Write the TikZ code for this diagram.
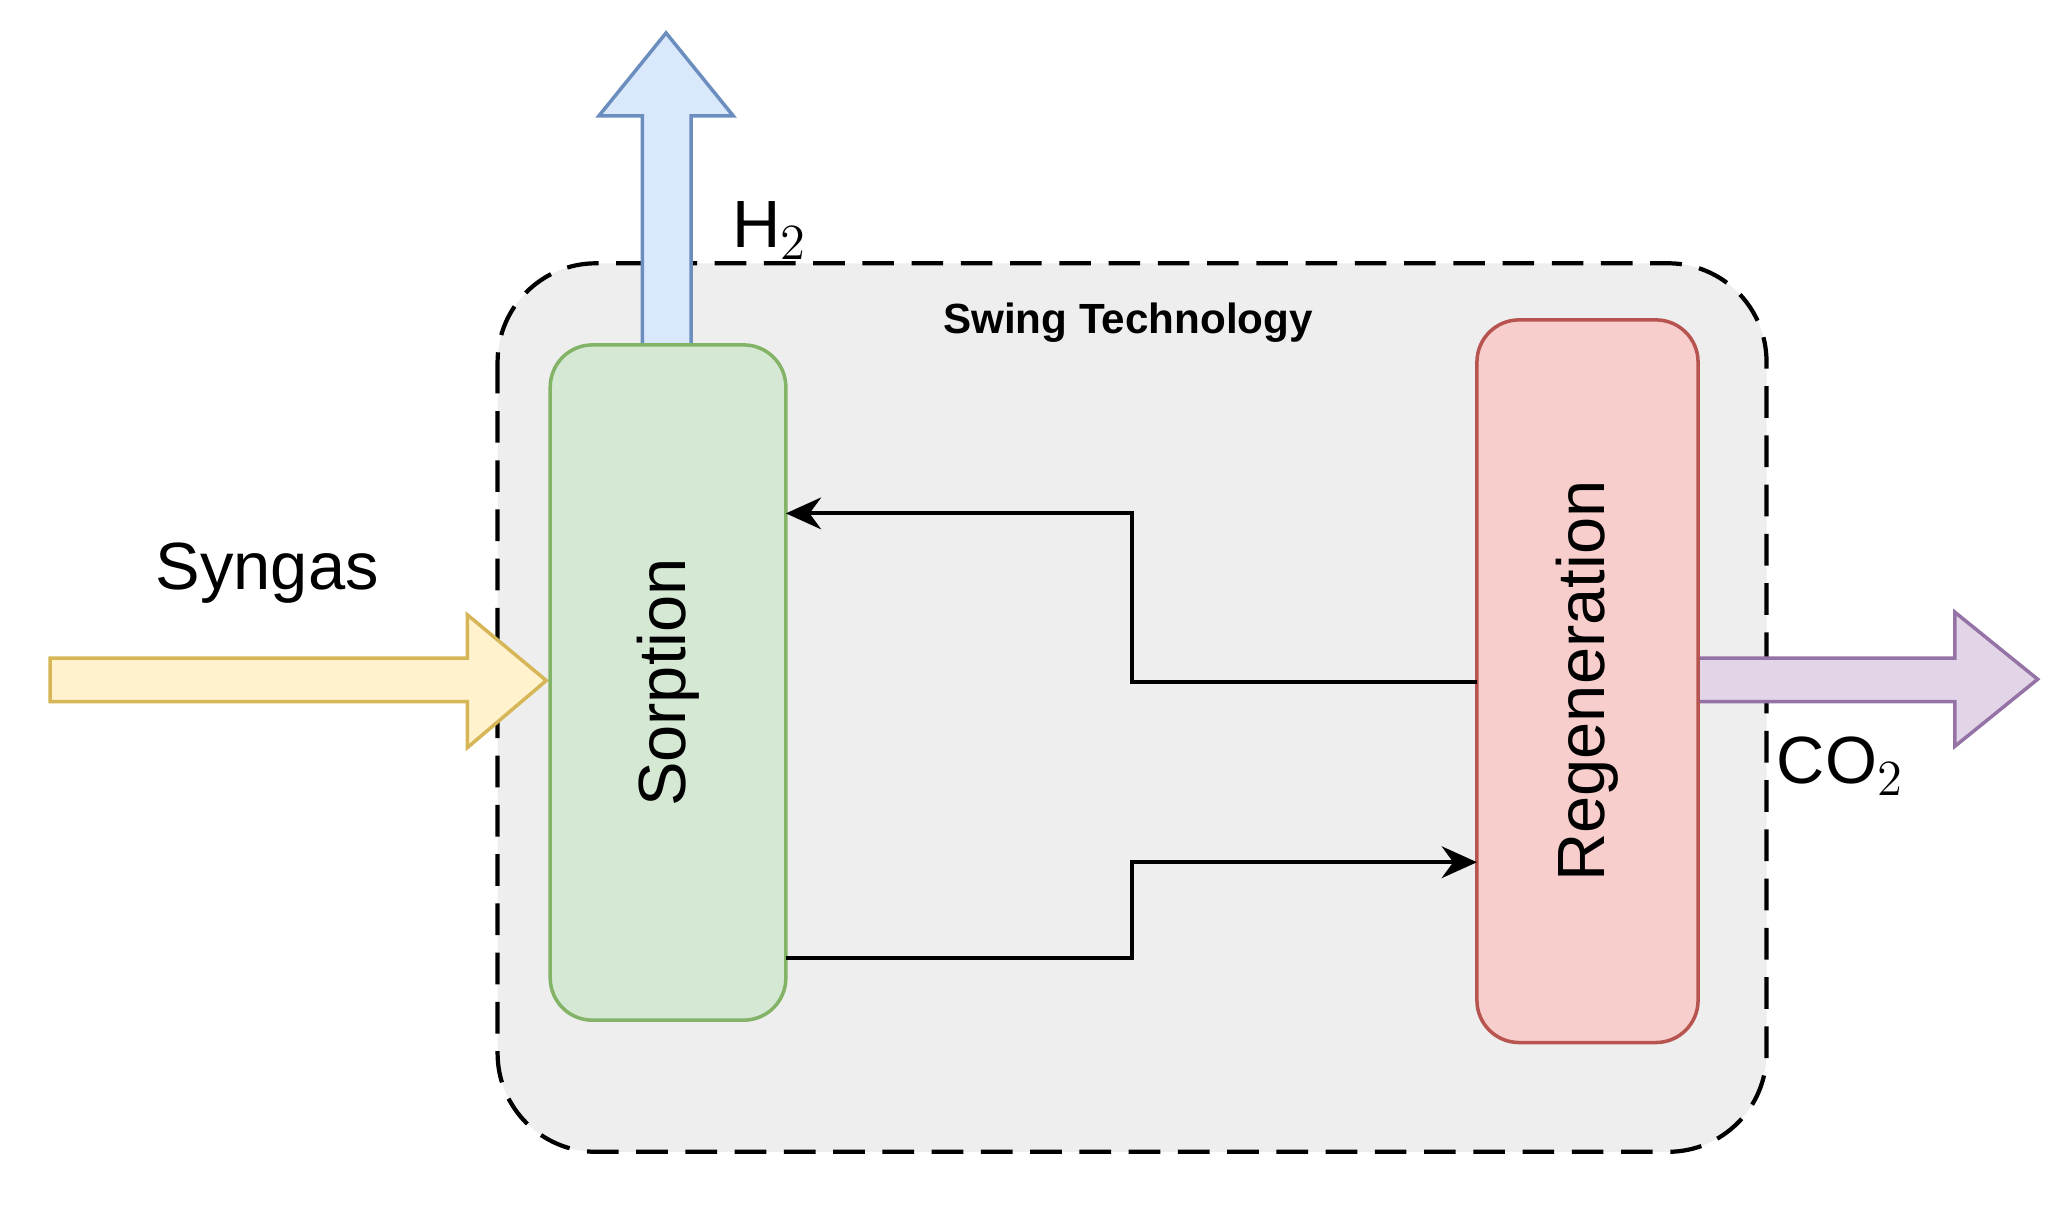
\documentclass[tikz,border=0pt]{standalone}
\usepackage{fontspec}
\setmainfont{Liberation Sans}
\usetikzlibrary{arrows.meta}
\definecolor{grp}{HTML}{EEEEEE}
\definecolor{gfill}{HTML}{D5E8D4}\definecolor{gdraw}{HTML}{82B366}
\definecolor{rfill}{HTML}{F8CECC}\definecolor{rdraw}{HTML}{B85450}
\definecolor{bfill}{HTML}{DAE8FC}\definecolor{bdraw}{HTML}{6C8EBF}
\definecolor{yfill}{HTML}{FFF2CC}\definecolor{ydraw}{HTML}{D6B656}
\definecolor{pfill}{HTML}{E1D5E7}\definecolor{pdraw}{HTML}{9673A6}
\begin{document}
\begin{tikzpicture}[x=0.01316cm,y=-0.01316cm,
  lbl/.style={font=\fontsize{19}{22}\selectfont},
  flow/.style={line width=1.2pt,-{Stealth[length=10pt,width=9pt]}},
  blk/.style={line width=1.2pt}]
\useasboundingbox (0,0) rectangle (1568,922);
\draw[fill=grp,dashed,line width=1.2pt,dash pattern=on 9pt off 5pt,rounded corners=28pt] (378,200) rectangle (1342,875);
\node[font=\bfseries\fontsize{12}{14}\selectfont] (title) at (857,245) {Swing Technology};
% H2 arrow
\draw[fill=bfill,draw=bdraw,line width=1pt] (488,262)--(488,88)--(455,88)--(506,25)--(557,88)--(525,88)--(525,262)--cycle;
\node[lbl] (h2) at (585,175) {H$_2$};
% Syngas arrow
\draw[fill=yfill,draw=ydraw,line width=1pt] (38,500)--(355,500)--(355,467)--(415,517)--(355,568)--(355,533)--(38,533)--cycle;
\node[lbl] (syn) at (203,435) {Syngas};
% CO2 arrow
\draw[fill=pfill,draw=pdraw,line width=1pt] (1285,500)--(1485,500)--(1485,465)--(1548,516)--(1485,567)--(1485,533)--(1285,533)--cycle;
\node[lbl] (co2) at (1398,582) {CO$_2$};
\node[draw=gdraw,fill=gfill,line width=1pt,rounded corners=12pt,minimum width=179*0.01316cm,minimum height=513*0.01316cm] (sorp) at (507.5,518.5) {};
\node[lbl,rotate=90] at (sorp.center) {Sorption};
\node[draw=rdraw,fill=rfill,line width=1pt,rounded corners=12pt,minimum width=168*0.01316cm,minimum height=549*0.01316cm] (reg) at (1206,517.5) {};
\node[lbl,rotate=90] at (reg.center) {Regeneration};
\coordinate (a1) at (1122,518); \coordinate (a2) at (597,390);
\coordinate (b1) at (597,728); \coordinate (b2) at (1122,655);
\draw[flow] (a1) -- (860,518) -- (860,390) -- (a2);
\draw[flow] (b1) -- (860,728) -- (860,655) -- (b2);
\end{tikzpicture}
\end{document}
